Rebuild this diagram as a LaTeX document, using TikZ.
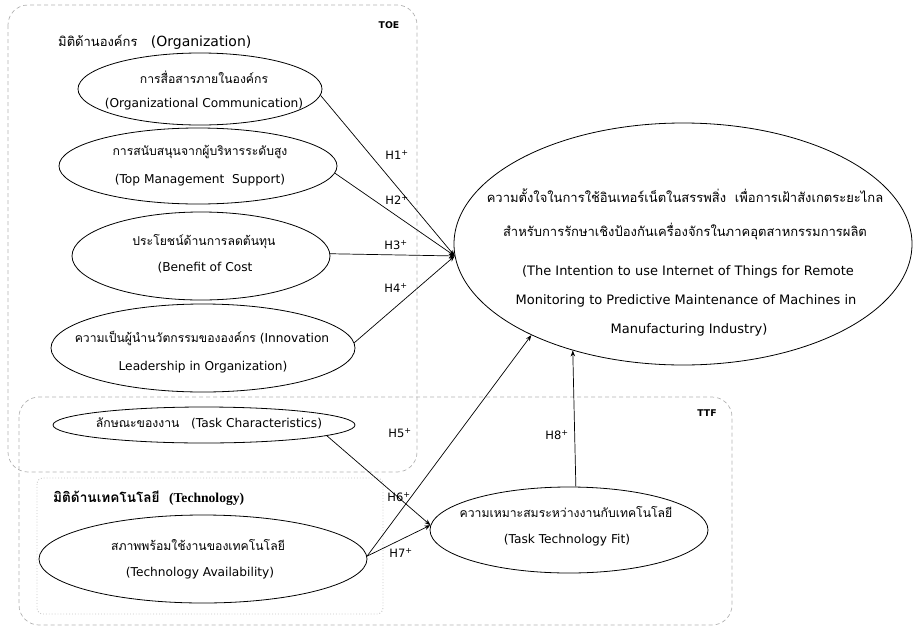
\documentclass[tikz,border=0pt]{standalone}
\usepackage{fontspec}
\setmainfont{DejaVu Sans}
\newfontfamily\thai[Script=Thai]{Loma}
\newfontfamily\serifb{Liberation Serif}
\usetikzlibrary{shapes.geometric,arrows.meta}
\newcommand{\thx}[1]{{\thai #1}}
\begin{document}
\begin{tikzpicture}[x=1pt,y=-1pt,
  ell/.style={draw,ellipse,inner sep=0pt,line width=0.8pt},
  txt/.style={font=\fontsize{12.2}{14}\selectfont,inner sep=0pt},
  big/.style={font=\fontsize{13}{15}\selectfont,inner sep=0pt},
  hl/.style={font=\fontsize{11.5}{13}\selectfont,inner sep=0pt},
  tag/.style={font=\fontsize{9.3}{10}\selectfont\bfseries,inner sep=0pt},
  conn/.style={line width=0.7pt,-{Stealth[length=6pt,width=4.5pt]}},
  grpbox/.style={draw=gray!60,dash pattern=on 4pt off 3pt,line width=0.7pt,rounded corners=20pt},
  techbox/.style={draw=gray!45,dotted,line width=0.9pt,rounded corners=6pt}]
\useasboundingbox (0,0) rectangle (913,627);

% group boxes
\draw[grpbox] (8,5) rectangle (417,472);
\draw[grpbox] (19,397) rectangle (732,625);
\draw[techbox] (37,478) rectangle (383,614);

\node[tag] (toe) at (389,25) {TOE};
\node[tag] (ttftag) at (707,413) {TTF};
\node[anchor=west,inner sep=0pt,font=\fontsize{14}{15}\selectfont] (orghead) at (58,42) {{\thai\fontsize{13}{15}\selectfont มิติด้านองค์กร}~~~(Organization)};
\node[anchor=west,inner sep=0pt,font=\fontsize{13.6}{16}\selectfont\bfseries] (techhead) at (53,498) {{\thai มิติด้านเทคโนโลยี}~~{\serifb\bfseries (Technology)}};

% ellipses
\node[ell,minimum width=244pt,minimum height=72pt] (oc) at (200,89) {};
\node[ell,minimum width=278pt,minimum height=76pt] (tms) at (198,166) {};
\node[ell,minimum width=258pt,minimum height=88pt] (boc) at (201,256) {};
\node[ell,minimum width=304pt,minimum height=88pt] (inn) at (203,348) {};
\node[ell,minimum width=302pt,minimum height=36pt] (tc) at (204,425) {};
\node[ell,minimum width=328pt,minimum height=88pt] (ta) at (203,559) {};
\node[ell,minimum width=278pt,minimum height=86pt] (ttf) at (569,530) {};
\node[ell,minimum width=458pt,minimum height=242pt] (int) at (683,244) {};

% texts
\node[txt] (oc1) at (204,77) {\thx{การสื่อสารภายในองค์กร}};
\node[txt] (oc2) at (204,104) {(Organizational Communication)};
\node[txt] (tms1) at (200,152) {\thx{การสนับสนุนจากผู้บริหารระดับสูง}};
\node[txt] (tms2) at (200,180) {(Top Management~~Support)};
\node[txt] (boc1) at (204,242) {\thx{ประโยชน์ด้านการลดต้นทุน}};
\node[txt] (boc2) at (205,268) {(Benefit of Cost};
\node[txt] (inn1) at (202,338) {\thx{ความเป็นผู้นำนวัตกรรมขององค์กร} (Innovation};
\node[txt] (inn2) at (203,367) {Leadership in Organization)};
\node[txt] (tc1) at (209,423) {\thx{ลักษณะของงาน}~~~(Task Characteristics)};
\node[txt] (ta1) at (198,545) {\thx{สภาพพร้อมใช้งานของเทคโนโลยี}};
\node[txt] (ta2) at (200,573) {(Technology Availability)};
\node[txt] (ttf1) at (566,512) {\thx{ความเหมาะสมระหว่างงานกับเทคโนโลยี}};
\node[txt] (ttf2) at (567,540) {(Task Technology Fit)};
\node[big] (int1) at (685,196) {\thx{ความตั้งใจในการใช้อินเทอร์เน็ตในสรรพสิ่ง~~เพื่อการเฝ้าสังเกตระยะไกล}};
\node[big] (int2) at (685,232) {\thx{สำหรับการรักษาเชิงป้องกันเครื่องจักรในภาคอุตสาหกรรมการผลิต}};
\node[big] (int3) at (688,272) {(The Intention to use Internet of Things for Remote};
\node[big] (int4) at (686,301) {Monitoring to Predictive Maintenance of Machines in};
\node[big] (int5) at (689,330) {Manufacturing Industry)};

% connectors
\draw[conn] (oc.-3) -- (int.183);
\draw[conn] (tms.-3) -- (int.183);
\draw[conn] (boc.1) -- (int.183);
\draw[conn] (inn.2) -- (int.183);
\draw[conn] (tc.-5) -- (ttf.178);
\draw[conn] (ta.1) -- (int.211.6);
\draw[conn] (ta.1) -- (ttf.178);
\draw[conn] (ttf.81) -- (int.224.5);

% hypothesis labels
\node[hl] (h1) at (397,155) {H1\textsuperscript{+}};
\node[hl] (h2) at (397,200) {H2\textsuperscript{+}};
\node[hl] (h3) at (396,245) {H3\textsuperscript{+}};
\node[hl] (h4) at (396,288) {H4\textsuperscript{+}};
\node[hl] (h5) at (400,433) {H5\textsuperscript{+}};
\node[hl] (h6) at (399,497) {H6\textsuperscript{+}};
\node[hl] (h7) at (401,553) {H7\textsuperscript{+}};
\node[hl] (h8) at (557,435) {H8\textsuperscript{+}};
\end{tikzpicture}
\end{document}
